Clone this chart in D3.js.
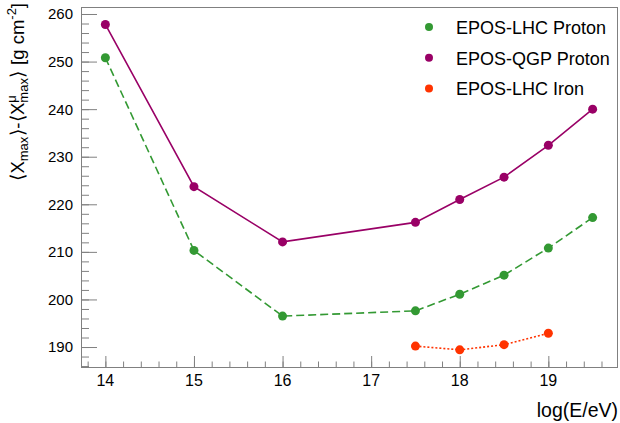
<!DOCTYPE html>
<html>
<head>
<meta charset="utf-8">
<script src="https://cdn.jsdelivr.net/npm/d3@7"></script>
<style>
  html, body { margin: 0; padding: 0; background: #fff; }
  svg { display: block; font-family: "Liberation Sans", Arial, sans-serif; }
</style>
</head>
<body>
<svg id="chart" width="620" height="423"></svg>
<script>
// data
const energyProton = [14, 15, 16, 17.5, 18, 18.5, 19, 19.5]
const energyIron = [17.5, 18, 18.5, 19]
const eposLhcProton = [250.8, 210.3, 196.5, 197.6, 201.1, 205.1, 210.8, 217.2]
const eposQgpProton = [257.8, 223.7, 212.1, 216.2, 221.0, 225.7, 232.4, 240.0]
const eposLhcIron = [190.2, 189.4, 190.5, 192.9]
const seriesNames = ['EPOS-LHC Proton', 'EPOS-QGP Proton', 'EPOS-LHC Iron']
const xTicks = [14, 15, 16, 17, 18, 19]
const yTicks = [190, 200, 210, 220, 230, 240, 250, 260]

// frame
const frameL = 81, frameR = 617, frameT = 7, frameB = 367
const axisColor = '#808080'

const svg = d3.select('#chart')

const x = d3.scaleLinear().domain([13.725, 19.775]).range([frameL, frameR])
const y = d3.scaleLinear().domain([185.8, 261.47]).range([frameB, frameT])

// 枠
svg.append('rect')
  .attr('x', frameL).attr('y', frameT)
  .attr('width', frameR - frameL).attr('height', frameB - frameT)
  .attr('fill', 'none').attr('stroke', axisColor).attr('stroke-width', 1)
  .attr('shape-rendering', 'crispEdges')

// x軸 (主目盛り 1, 副目盛り 0.2)
const xMinor = d3.range(13.8, 19.7, 0.2).map(v => +v.toFixed(1))
svg.append('g')
  .attr('transform', `translate(0, ${frameB})`)
  .call(d3.axisTop(x).tickValues(xMinor).tickSize(5.5).tickFormat(''))
  .call(g => g.select('.domain').remove())
  .call(g => g.selectAll('line').attr('stroke', axisColor))
svg.append('g')
  .attr('transform', `translate(0, ${frameB})`)
  .call(d3.axisTop(x).tickValues(xTicks).tickSize(11).tickFormat(''))
  .call(g => g.select('.domain').remove())
  .call(g => g.selectAll('line').attr('stroke', axisColor))
svg.append('g')
  .selectAll('text')
  .data(xTicks)
  .join('text')
  .attr('x', d => x(d))
  .attr('y', 386)
  .attr('text-anchor', 'middle')
  .attr('font-size', 16)
  .text(d => d)

// y軸 (主目盛り 10, 副目盛り 2)
const yMinor = d3.range(186, 262, 2)
svg.append('g')
  .attr('transform', `translate(${frameL}, 0)`)
  .call(d3.axisRight(y).tickValues(yMinor).tickSize(8).tickFormat(''))
  .call(g => g.select('.domain').remove())
  .call(g => g.selectAll('line').attr('stroke', axisColor))
svg.append('g')
  .attr('transform', `translate(${frameL}, 0)`)
  .call(d3.axisRight(y).tickValues(yTicks).tickSize(16).tickFormat(''))
  .call(g => g.select('.domain').remove())
  .call(g => g.selectAll('line').attr('stroke', axisColor))
svg.append('g')
  .selectAll('text')
  .data(yTicks)
  .join('text')
  .attr('x', 73)
  .attr('y', d => y(d))
  .attr('dy', '0.36em')
  .attr('text-anchor', 'end')
  .attr('font-size', 15)
  .text(d => d)

// 軸タイトル
svg.append('text')
  .attr('x', frameR + 1)
  .attr('y', 417)
  .attr('text-anchor', 'end')
  .attr('font-size', 19.5)
  .text('log(E/eV)')

const yTitle = svg.append('text')
  .attr('transform', 'translate(24, 3) rotate(-90)')
  .attr('text-anchor', 'end')
  .attr('font-size', 18.5)
yTitle.append('tspan').text('\u27E8')
yTitle.append('tspan').attr('dx', 0.5).text('X')
yTitle.append('tspan').attr('font-size', 13).attr('dy', 4).text('max')
yTitle.append('tspan').attr('dy', -4).attr('dx', 0.5).text('\u27E9')
yTitle.append('tspan').attr('dx', 0.5).text('-\u27E8')
yTitle.append('tspan').attr('dx', 0.5).text('X')
const mu = yTitle.append('tspan').attr('font-size', 13).attr('dy', -8).text('\u03BC')
const sub = yTitle.append('tspan').attr('font-size', 13).attr('dy', 12).text('max')
yTitle.append('tspan').attr('dy', -4).attr('dx', 0.5).text('\u27E9')
yTitle.append('tspan').attr('dx', 0.5).text(' [g cm')
yTitle.append('tspan').attr('font-size', 13).attr('dy', -8).text('-2')
yTitle.append('tspan').attr('dy', 8).text(']')
sub.attr('dx', -mu.node().getComputedTextLength())

// 系列
const series = [
  { name: seriesNames[1], xs: energyProton, ys: eposQgpProton, color: '#990066', dash: null },
  { name: seriesNames[0], xs: energyProton, ys: eposLhcProton, color: '#339933', dash: '8,4' },
  { name: seriesNames[2], xs: energyIron, ys: eposLhcIron, color: '#ff3300', dash: '2,2' }
]

const line = d3.line().x(d => x(d[0])).y(d => y(d[1]))

series.forEach(s => {
  const pts = s.xs.map((v, i) => [v, s.ys[i]])
  svg.append('path')
    .datum(pts)
    .attr('d', line)
    .attr('fill', 'none')
    .attr('stroke', s.color)
    .attr('stroke-width', 1.6)
    .attr('stroke-dasharray', s.dash)
  svg.append('g')
    .selectAll('circle')
    .data(pts)
    .join('circle')
    .attr('cx', d => x(d[0]))
    .attr('cy', d => y(d[1]))
    .attr('r', 4.5)
    .attr('fill', s.color)
})

// 凡例
const legendColors = ['#339933', '#990066', '#ff3300']
const legend = svg.append('g')
  .selectAll('g')
  .data(seriesNames)
  .join('g')
  .attr('transform', (d, i) => `translate(429, ${27 + i * 30.7})`)
legend.append('circle')
  .attr('r', 4)
  .attr('fill', (d, i) => legendColors[i])
legend.append('text')
  .attr('x', 27)
  .attr('y', 6.8)
  .attr('font-size', 18)
  .text(d => d)
</script>
</body>
</html>
